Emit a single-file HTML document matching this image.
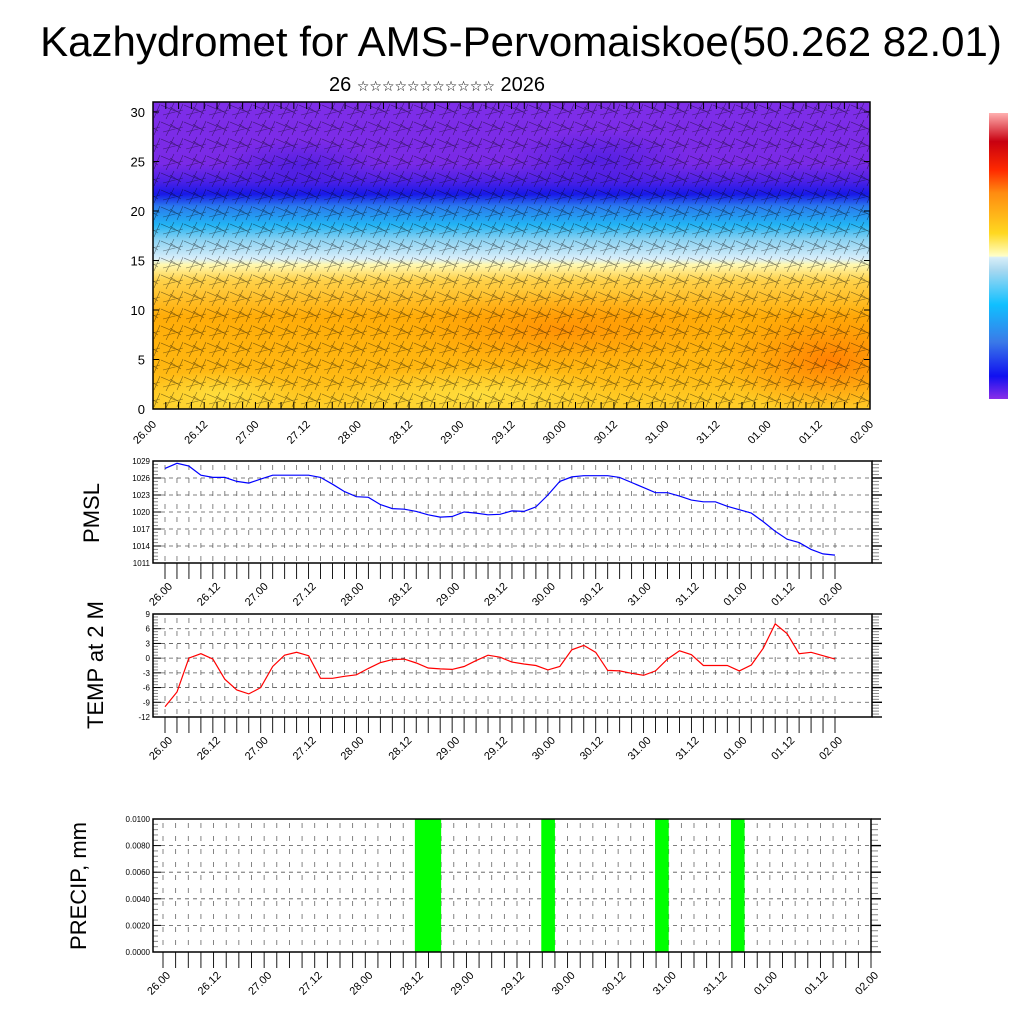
<!DOCTYPE html>
<html><head><meta charset="utf-8"><style>
body{margin:0;background:#fff;}
svg text{font-family:"Liberation Sans","DejaVu Sans",sans-serif;}
</style></head><body>
<svg id="c" width="1024" height="1024" viewBox="0 0 1024 1024" xmlns="http://www.w3.org/2000/svg">
<defs>
<clipPath id="clipTop"><rect x="153" y="102" width="717" height="307"/></clipPath>
<linearGradient id="vg" x1="0" y1="1" x2="0" y2="0">
<stop offset="0" stop-color="#ffd02a"/>
<stop offset="0.12" stop-color="#ffb812"/>
<stop offset="0.3" stop-color="#ffac08"/>
<stop offset="0.42" stop-color="#ffd24a"/>
<stop offset="0.47" stop-color="#fff8b0"/>
<stop offset="0.49" stop-color="#d8eefa"/>
<stop offset="0.55" stop-color="#8cd2f2"/>
<stop offset="0.6" stop-color="#22b4f4"/>
<stop offset="0.66" stop-color="#2a7aee"/>
<stop offset="0.7" stop-color="#1818e8"/>
<stop offset="0.74" stop-color="#4a20e6"/>
<stop offset="0.8" stop-color="#7a2ae6"/>
<stop offset="1" stop-color="#7e2ee8"/>
</linearGradient>
<radialGradient id="hot" cx="0.5" cy="0.5" r="0.5">
<stop offset="0" stop-color="#ff7a00" stop-opacity="0.9"/>
<stop offset="1" stop-color="#ff8c00" stop-opacity="0"/>
</radialGradient>
<radialGradient id="yel" cx="0.5" cy="0.5" r="0.5">
<stop offset="0" stop-color="#ffe040" stop-opacity="0.9"/>
<stop offset="1" stop-color="#ffe040" stop-opacity="0"/>
</radialGradient>
<radialGradient id="dk" cx="0.5" cy="0.5" r="0.5">
<stop offset="0" stop-color="#3a18e0" stop-opacity="0.6"/>
<stop offset="1" stop-color="#3a18e0" stop-opacity="0"/>
</radialGradient>
<pattern id="barbs" width="23" height="17" patternUnits="userSpaceOnUse">
<path d="M0 3 L14 9 M5 17 L13 1 M2 13 L22 8 M16 16 L22 2 M9 5 L20 12" stroke="#000" stroke-width="0.6" fill="none" stroke-opacity="0.5"/>
</pattern>
<linearGradient id="cb" x1="0" y1="1" x2="0" y2="0">
<stop offset="0" stop-color="#8a2ee8"/>
<stop offset="0.08" stop-color="#1010f0"/>
<stop offset="0.2" stop-color="#3a7ae8"/>
<stop offset="0.33" stop-color="#10c0ff"/>
<stop offset="0.45" stop-color="#a8d8f0"/>
<stop offset="0.495" stop-color="#d8eef8"/>
<stop offset="0.5" stop-color="#ffffc8"/>
<stop offset="0.58" stop-color="#ffd820"/>
<stop offset="0.72" stop-color="#ff8c10"/>
<stop offset="0.8" stop-color="#ff2a00"/>
<stop offset="0.9" stop-color="#c80010"/>
<stop offset="1" stop-color="#ffb0b0"/>
</linearGradient>
</defs>
<text x="521" y="56" font-size="42" text-anchor="middle">Kazhydromet for AMS-Pervomaiskoe(50.262 82.01)</text>
<text x="437" y="91" font-size="20" text-anchor="middle">26 <tspan font-size="14">☆☆☆☆☆☆☆☆☆☆☆</tspan> 2026</text>

<g>
<rect x="153" y="102" width="717" height="307" fill="url(#vg)"/>
<g clip-path="url(#clipTop)">
<ellipse cx="830" cy="360" rx="110" ry="55" fill="url(#hot)"/>
<ellipse cx="560" cy="330" rx="160" ry="40" fill="url(#hot)" opacity="0.6"/>
<ellipse cx="480" cy="395" rx="140" ry="30" fill="url(#yel)"/>
<ellipse cx="220" cy="395" rx="80" ry="25" fill="url(#yel)"/>
<ellipse cx="600" cy="160" rx="90" ry="30" fill="url(#dk)"/>
<ellipse cx="300" cy="165" rx="80" ry="25" fill="url(#dk)"/>
</g>
<rect x="153" y="102" width="717" height="307" fill="url(#barbs)"/>
<rect x="153" y="102" width="717" height="307" fill="none" stroke="#000" stroke-width="1.5"/>
<g id="topAxis"></g>
</g>
<rect x="989" y="113" width="19" height="286" fill="url(#cb)"/>
<g id="pmsl"></g>
<g id="temp"></g>
<g id="precip"></g>
<text transform="translate(99,513) rotate(-90)" font-size="22" text-anchor="middle">PMSL</text>
<text transform="translate(103,665) rotate(-90)" font-size="22" text-anchor="middle">TEMP at 2 M</text>
<text transform="translate(86,886) rotate(-90)" font-size="22" text-anchor="middle">PRECIP, mm</text>
</svg>
<script>
const timeLabels=["26.00","26.12","27.00","27.12","28.00","28.12","29.00","29.12","30.00","30.12","31.00","31.12","01.00","01.12","02.00"];
const heightTicks=[0,5,10,15,20,25,30];
const pmslValues=[1027.7,1028.6,1028.1,1026.5,1026.1,1026.1,1025.4,1025.1,1025.8,1026.5,1026.5,1026.5,1026.5,1026.1,1024.9,1023.6,1022.7,1022.6,1021.3,1020.6,1020.5,1020.1,1019.5,1019.1,1019.2,1020.0,1019.8,1019.5,1019.6,1020.2,1020.1,1020.9,1023.0,1025.4,1026.2,1026.4,1026.4,1026.4,1026.1,1025.2,1024.3,1023.4,1023.4,1022.8,1022.1,1021.8,1021.8,1021.0,1020.4,1019.8,1018.3,1016.6,1015.2,1014.6,1013.4,1012.6,1012.4];
const pmslTicks=[1011,1014,1017,1020,1023,1026,1029];
const tempValues=[-9.9,-6.9,0.0,0.9,-0.2,-4.3,-6.5,-7.3,-6.0,-1.7,0.6,1.2,0.5,-4.1,-4.1,-3.7,-3.4,-2.1,-0.9,-0.3,-0.2,-1.0,-2.0,-2.2,-2.3,-1.7,-0.5,0.6,0.2,-0.8,-1.2,-1.5,-2.4,-1.7,1.7,2.6,1.2,-2.5,-2.6,-3.1,-3.5,-2.6,-0.2,1.5,0.7,-1.5,-1.5,-1.5,-2.6,-1.4,2.0,7.0,5.0,0.9,1.2,0.5,-0.2];
const tempTicks=[-12,-9,-6,-3,0,3,6,9];
const precipValues=[0,0,0,0,0,0,0,0,0,0,0,0,0,0,0,0,0,0,0,0,0.012,0.012,0,0,0,0,0,0,0,0,0.012,0,0,0,0,0,0,0,0,0.012,0,0,0,0,0,0.012,0,0,0,0,0,0,0,0,0,0];
const precipTicks=[0,0.002,0.004,0.006,0.008,0.01];
const NS="http://www.w3.org/2000/svg";
function mk(p,t,a){const e=document.createElementNS(NS,t);for(const k in a)e.setAttribute(k,a[k]);p.appendChild(e);return e;}
(function(){
 const g=document.getElementById('topAxis');
 const x0=153,x1=870,y0=409,y1=102;
 const yS=v=>409-v*9.9;
 heightTicks.forEach(v=>{
  mk(g,'line',{x1:x0,x2:x0+6,y1:yS(v),y2:yS(v),stroke:'#000'});
  mk(g,'line',{x1:x1,x2:x1-6,y1:yS(v),y2:yS(v),stroke:'#000'});
  const t=mk(g,'text',{x:x0-8,y:yS(v)+5,'font-size':13,'text-anchor':'end'});t.textContent=v;
  
  
 });
 const n=(timeLabels.length-1)*4;
 for(let i=0;i<=n;i++){const x=x0+i*(x1-x0)/n;
  mk(g,'line',{x1:x,x2:x,y1:y0,y2:y0-7,stroke:'#000'});
  mk(g,'line',{x1:x,x2:x,y1:y1,y2:y1+7,stroke:'#000'});}
 timeLabels.forEach((l,i)=>{const x=x0+i*(x1-x0)/(timeLabels.length-1);
  const t=mk(g,'text',{transform:`translate(${x+4},${y0+16}) rotate(-45)`,'font-size':11,'text-anchor':'end'});t.textContent=l;
  
  });
})();
function panel(id,o){
 const g=document.getElementById(id);
 const {L,R,T,B,x0,x1,ymin,ymax,ticks,fmt}=o;
 const n=(timeLabels.length-1)*4;
 const xS=i=>x0+i*(x1-x0)/n;
 const yS=v=>B-(v-ymin)/(ymax-ymin)*(B-T);
 mk(g,'rect',{x:L,y:T,width:R-L,height:B-T,fill:'#fff'});
 for(let i=0;i<=n;i++){const x=xS(i);
  mk(g,'line',{x1:x,x2:x,y1:T+4,y2:B,stroke:'#666','stroke-width':0.8,'stroke-dasharray':'5,8'});
  mk(g,'line',{x1:x,x2:x,y1:B,y2:B+16,stroke:'#000','stroke-width':0.9});}
 ticks.forEach((v,k)=>{const y=yS(v);
  if(k>0&&k<ticks.length-1)mk(g,'line',{x1:L,x2:R,y1:y,y2:y,stroke:'#555','stroke-width':0.8,'stroke-dasharray':'4,4'});
  mk(g,'line',{x1:L,x2:L+8,y1:y,y2:y,stroke:'#000'});
  mk(g,'line',{x1:R,x2:R+10,y1:y,y2:y,stroke:'#000','stroke-width':1.4});
  const t=mk(g,'text',{x:L-3,y:y+3,'font-size':8,'text-anchor':'end'});t.textContent=fmt(v);
  
  
  if(k<ticks.length-1){for(let m=1;m<5;m++){const yy=y-(yS(v)-yS(ticks[k+1]))*m/5;
   mk(g,'line',{x1:R,x2:R+7,y1:yy,y2:yy,stroke:'#888'});mk(g,'line',{x1:L,x2:L+5,y1:yy,y2:yy,stroke:'#888'});}}
 });
 timeLabels.forEach((l,i)=>{const x=xS(i*4);
  const t=mk(g,'text',{transform:`translate(${x+8},${B+24}) rotate(-45)`,'font-size':11,'text-anchor':'end'});t.textContent=l;
  
  });
 return {g,xS,yS,border:()=>mk(g,'rect',{x:L,y:T,width:R-L,height:B-T,fill:'none',stroke:'#000','stroke-width':1.5})};
}
(function(){
 const p=panel('pmsl',{L:153,R:872,T:461,B:563,x0:165,x1:835,ymin:1011,ymax:1029,ticks:pmslTicks,fmt:v=>v});
 const d=pmslValues.map((v,i)=>(i?'L':'M')+p.xS(i).toFixed(1)+' '+p.yS(v).toFixed(1)).join(' ');
 const l=mk(p.g,'path',{d,fill:'none',stroke:'#0000ff','stroke-width':1.2});
 
 
 p.border();
})();
(function(){
 const p=panel('temp',{L:153,R:872,T:614,B:717,x0:165,x1:835,ymin:-12,ymax:9,ticks:tempTicks,fmt:v=>v});
 const d=tempValues.map((v,i)=>(i?'L':'M')+p.xS(i).toFixed(1)+' '+p.yS(v).toFixed(1)).join(' ');
 const l=mk(p.g,'path',{d,fill:'none',stroke:'#ff0000','stroke-width':1.2});
 
 
 p.border();
})();
(function(){
 const p=panel('precip',{L:153,R:871,T:819,B:952,x0:163,x1:871,ymin:0,ymax:0.01,ticks:precipTicks,fmt:v=>v.toFixed(4)});
 precipValues.forEach((v,i)=>{if(v<=0)return;
  const y=Math.max(p.yS(v),819);
  const r=mk(p.g,'rect',{x:p.xS(i)-1,y:y,width:p.xS(i+1)-p.xS(i)+1,height:952-y,fill:'#00ff00'});
  
  });
 p.border();
})();
</script>
</body></html>
